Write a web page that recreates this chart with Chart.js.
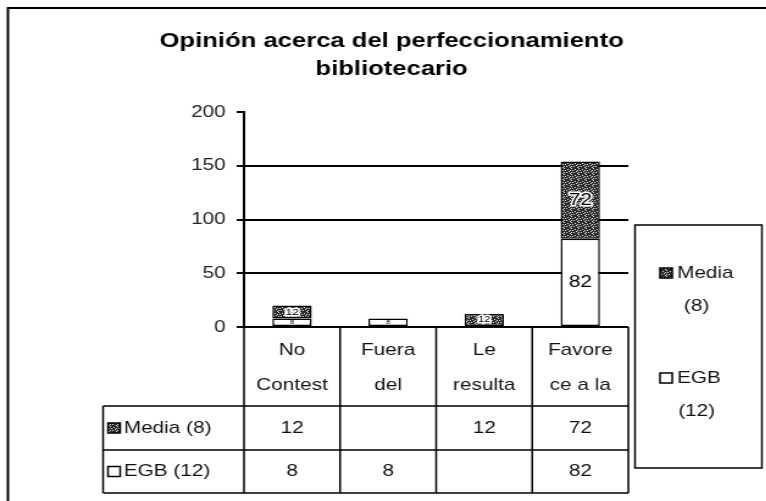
<!DOCTYPE html>
<html lang="es">

<head>
    <meta charset="UTF-8">
    <title>Perfeccionamiento bibliotecario</title>
    <script src="https://cdn.jsdelivr.net/npm/chart.js"></script>
    <style>
        body { margin: 0; background: #fff; }
        /* el gráfico original sale ensanchado en horizontal */
        #marco { width: 628px; height: 501px; transform: scaleX(1.22); transform-origin: 0 0; }
    </style>
</head>

<body>
    <div id="marco">
        <canvas id="grafico" width="628" height="501"></canvas>
    </div>

<script>
    // datos del gráfico
    const titulo = ["Opinión acerca del perfeccionamiento", "bibliotecario"];
    const categorias = [["No", "Contest"], ["Fuera", "del"], ["Le", "resulta"], ["Favore", "ce a la"]];
    const nombreMedia = "Media (8)";
    const nombreEgb = "EGB (12)";
    const media = [12, null, 12, 72];
    const egb = [8, 8, null, 82];
    const marcasY = [0, 50, 100, 150, 200];

    const fuente = '"Liberation Sans", Arial, sans-serif';

    // trama gris moteada para la serie Media
    function crearTrama() {
        const c = document.createElement('canvas');
        c.width = 6; c.height = 6;
        const g = c.getContext('2d');
        g.fillStyle = '#2a2a2a';
        g.fillRect(0, 0, 6, 6);
        g.fillStyle = '#e0e0e0';
        [[0, 0], [3, 1], [1, 2], [4, 3], [2, 4], [5, 5], [0, 4], [5, 2]].forEach(p => g.fillRect(p[0], p[1], 1, 1));
        return g.createPattern(c, 'repeat');
    }
    const trama = crearTrama();

    function marcador(ctx, x, y, relleno) {
        ctx.fillStyle = relleno;
        ctx.fillRect(x, y - 5, 10, 10);
        ctx.strokeStyle = '#000';
        ctx.lineWidth = 1.5;
        ctx.strokeRect(x, y - 5, 10, 10);
    }

    // título, tabla de datos, etiquetas y leyenda
    const tabla = {
        id: 'tabla',
        afterDraw(chart) {
            const ctx = chart.ctx;
            const x = chart.scales.x;
            const y = chart.scales.y;
            const area = chart.chartArea;
            ctx.save();

            // marco exterior
            ctx.strokeStyle = '#000';
            ctx.lineWidth = 2;
            ctx.beginPath();
            ctx.moveTo(6.5, 501);
            ctx.lineTo(6.5, 8);
            ctx.lineTo(628, 8);
            ctx.stroke();

            // título
            ctx.fillStyle = '#000';
            ctx.font = 'bold 21px ' + fuente;
            ctx.textAlign = 'center';
            ctx.textBaseline = 'middle';
            ctx.fillText(titulo[0], 321, 41);
            ctx.fillText(titulo[1], 321, 69);

            // etiquetas dentro de las barras
            chart.data.datasets.forEach((ds, d) => {
                chart.getDatasetMeta(d).data.forEach((bar, i) => {
                    const v = ds.data[i];
                    if (v === null) return;
                    const h = bar.base - bar.y;
                    const tam = Math.min(17, Math.max(6, h - 3));
                    ctx.font = tam + 'px ' + fuente;
                    ctx.textAlign = 'center';
                    ctx.textBaseline = 'middle';
                    const cy = (bar.y + bar.base) / 2;
                    if (d === 1) {
                        ctx.strokeStyle = '#fff';
                        ctx.lineWidth = 3;
                        ctx.strokeText(v, bar.x, cy);
                    }
                    ctx.fillStyle = '#000';
                    ctx.fillText(v, bar.x, cy);
                });
            });

            // tabla de datos bajo el eje
            const ancho = x.getPixelForValue(1) - x.getPixelForValue(0);
            const arriba = y.getPixelForValue(0);
            const cabecera = arriba + 79;
            const fila1 = cabecera + 44;
            const abajo = fila1 + 43;
            const izq = 84.5;

            ctx.strokeStyle = '#000';
            ctx.lineWidth = 1.5;
            ctx.beginPath();
            for (let i = 0; i <= categorias.length; i++) {
                const bx = x.getPixelForValue(i) - ancho / 2;
                ctx.moveTo(bx, arriba);
                ctx.lineTo(bx, abajo);
            }
            ctx.moveTo(izq, cabecera);
            ctx.lineTo(izq, abajo);
            [cabecera, fila1, abajo].forEach(ly => {
                ctx.moveTo(izq, ly);
                ctx.lineTo(area.right, ly);
            });
            ctx.stroke();

            ctx.font = '17px ' + fuente;
            ctx.fillStyle = '#111';
            categorias.forEach((lineas, i) => {
                const cx = x.getPixelForValue(i);
                ctx.save();
                ctx.beginPath();
                ctx.rect(cx - ancho / 2 + 1, arriba, ancho - 2, cabecera - arriba);
                ctx.clip();
                ctx.fillText(lineas[0], cx, arriba + 23);
                ctx.fillText(lineas[1], cx, arriba + 58);
                ctx.restore();

                if (media[i] !== null) ctx.fillText(media[i], cx, (cabecera + fila1) / 2);
                if (egb[i] !== null) ctx.fillText(egb[i], cx, (fila1 + abajo) / 2);
            });

            ctx.textAlign = 'left';
            marcador(ctx, izq + 4, (cabecera + fila1) / 2, trama);
            marcador(ctx, izq + 4, (fila1 + abajo) / 2, '#fff');
            ctx.fillStyle = '#111';
            ctx.fillText(nombreMedia, izq + 17, (cabecera + fila1) / 2);
            ctx.fillText(nombreEgb, izq + 17, (fila1 + abajo) / 2);

            // leyenda
            ctx.strokeStyle = '#000';
            ctx.lineWidth = 1.5;
            ctx.strokeRect(520.5, 225, 104, 243);
            const partes = [nombreMedia.split(' '), nombreEgb.split(' ')];
            [[273, trama], [378, '#fff']].forEach((p, k) => {
                marcador(ctx, 541, p[0], p[1]);
                ctx.fillStyle = '#111';
                ctx.textAlign = 'left';
                ctx.fillText(partes[k][0], 555, p[0]);
                ctx.textAlign = 'center';
                ctx.fillText(partes[k][1], 571, p[0] + 33);
            });

            ctx.restore();
        }
    };

    new Chart(document.getElementById('grafico'), {
        type: 'bar',
        data: {
            labels: categorias.map(c => c.join(' ')),
            datasets: [{
                label: nombreEgb,
                data: egb,
                backgroundColor: '#fff',
                borderColor: '#000',
                borderWidth: 1.5,
                borderSkipped: false,
                categoryPercentage: 1,
                barPercentage: 0.41
            }, {
                label: nombreMedia,
                data: media,
                backgroundColor: trama,
                borderColor: '#000',
                borderWidth: 1.5,
                borderSkipped: false,
                categoryPercentage: 1,
                barPercentage: 0.41
            }]
        },
        options: {
            responsive: false,
            animation: false,
            layout: { padding: { left: 0, top: 112, right: 113, bottom: 174 } },
            plugins: {
                legend: { display: false },
                title: { display: false },
                tooltip: { enabled: false }
            },
            scales: {
                x: { stacked: true, display: false },
                y: {
                    stacked: true,
                    min: 0,
                    max: 200,
                    afterFit: s => { s.width = 200; },
                    afterBuildTicks: s => { s.ticks = marcasY.map(v => ({ value: v })); },
                    ticks: {
                        padding: 9,
                        color: '#222',
                        font: { size: 17, family: fuente }
                    },
                    grid: {
                        color: c => c.tick && c.tick.value === 200 ? 'rgba(0,0,0,0)' : '#000',
                        tickColor: '#000',
                        tickLength: 6,
                        lineWidth: 2
                    },
                    border: { display: true, color: '#000', width: 2 }
                }
            }
        },
        plugins: [tabla]
    });
</script>
</body>

</html>
